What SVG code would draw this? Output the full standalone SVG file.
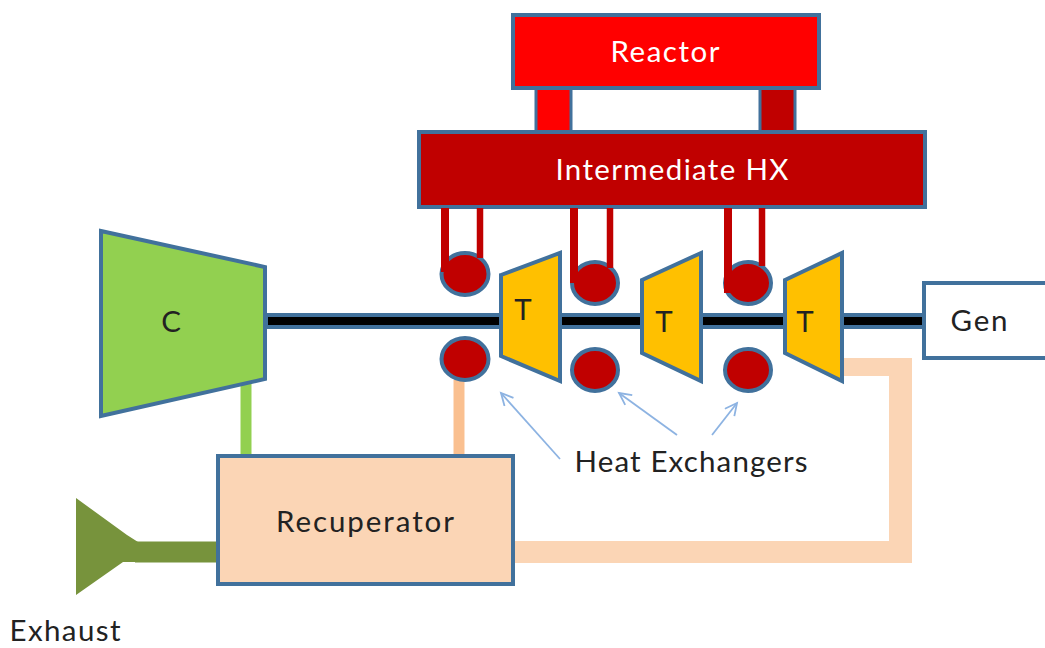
<svg xmlns="http://www.w3.org/2000/svg" width="1045" height="648" viewBox="0 0 1045 648">
<style>
text{font-family:"Lato","Open Sans","Liberation Sans",sans-serif;font-size:29.5px;fill:#222;text-anchor:middle}
.w{fill:#fff}
.n{stroke:#41719c;stroke-width:4}
.red{fill:#c00000}
.t{fill:#ffc000}
.pipe{fill:none;stroke:#c00000;stroke-width:8}
.ar{fill:none;stroke:#8db3e2;stroke-width:1.8}
</style>
<defs><marker id="a" markerUnits="userSpaceOnUse" markerWidth="16" markerHeight="16" refX="13" refY="7" orient="auto"><path d="M1 1L13 7L1 13" fill="none" stroke="#8db3e2" stroke-width="1.8"/></marker></defs>
<rect width="1045" height="648" fill="#fff"/>
<g id="connectors">
<rect x="266" y="315" width="658" height="12" fill="#000" stroke="#41719c" stroke-width="4"/>
<path d="M246 378V456" fill="none" stroke="#92d050" stroke-width="11"/>
<path d="M459 380V456" fill="none" stroke="#fac090" stroke-width="11"/>
<path d="M842 358H912V563H512V541H889V376H842Z" fill="#fbd5b5"/>
<path d="M135 552H218" fill="none" stroke="#77933c" stroke-width="21"/>
<rect x="536" y="88" width="35" height="46" fill="#f00" stroke="#41719c" stroke-width="3"/>
<rect x="760" y="88" width="35" height="46" fill="#c00000" stroke="#41719c" stroke-width="3"/>
<path class="ar" marker-end="url(#a)" d="M560 459L501 393"/>
<path class="ar" marker-end="url(#a)" d="M677 435L619 393"/>
<path class="ar" marker-end="url(#a)" d="M712 435L737 403"/>
</g>
<g id="reactor"><rect class="n" x="513" y="15" width="306" height="73" fill="#f00"/><text class="w" x="665" y="62" textLength="109">Reactor</text></g>
<g id="intermediate-hx"><rect class="n red" x="419" y="132" width="506" height="75"/><text class="w" x="672" y="180" textLength="233">Intermediate HX</text></g>
<g id="compressor"><path class="n" d="M101 231L265 267V379L101 416Z" fill="#92d050"/><text x="171" y="332">C</text></g>
<g id="turbine-1"><path class="n t" d="M501 275L560 253V381L501 356Z"/><text x="523" y="320">T</text></g>
<g id="turbine-2"><path class="n t" d="M642 280L701 253V381L642 353Z"/><text x="664" y="332">T</text></g>
<g id="turbine-3"><path class="n t" d="M785 280L842 253V381L785 353Z"/><text x="805" y="332">T</text></g>
<g id="hx-1a"><ellipse class="n red" cx="465" cy="274" rx="23.5" ry="21"/></g>
<g id="hx-1b"><ellipse class="n red" cx="465" cy="359" rx="23.5" ry="21"/></g>
<g id="hx-2a"><ellipse class="n red" cx="595" cy="283" rx="23" ry="21"/></g>
<g id="hx-2b"><ellipse class="n red" cx="595" cy="370" rx="23" ry="21"/></g>
<g id="hx-3a"><ellipse class="n red" cx="748" cy="283" rx="23" ry="21"/></g>
<g id="hx-3b"><ellipse class="n red" cx="748" cy="370" rx="23" ry="21"/></g>
<g id="hx-pipes"><path class="pipe" d="M445 208V272M574 208V283M728 208V293"/><path class="pipe" style="stroke-width:6.5" d="M480 208V258M610 208V268M762 208V266"/></g>
<g id="gen"><rect class="n" x="924" y="283" width="125" height="75" fill="#fff"/><text x="979" y="331" textLength="57">Gen</text></g>
<g id="recuperator"><rect class="n" x="218" y="456" width="295" height="128" fill="#fbd5b5"/><text x="365" y="532" textLength="178">Recuperator</text></g>
<g id="exhaust"><path d="M76 498L127 535L138 542V562H123L76 595Z" fill="#77933c"/><text x="65" y="641" textLength="111">Exhaust</text></g>
<text x="691" y="472" textLength="233">Heat Exchangers</text>
</svg>
